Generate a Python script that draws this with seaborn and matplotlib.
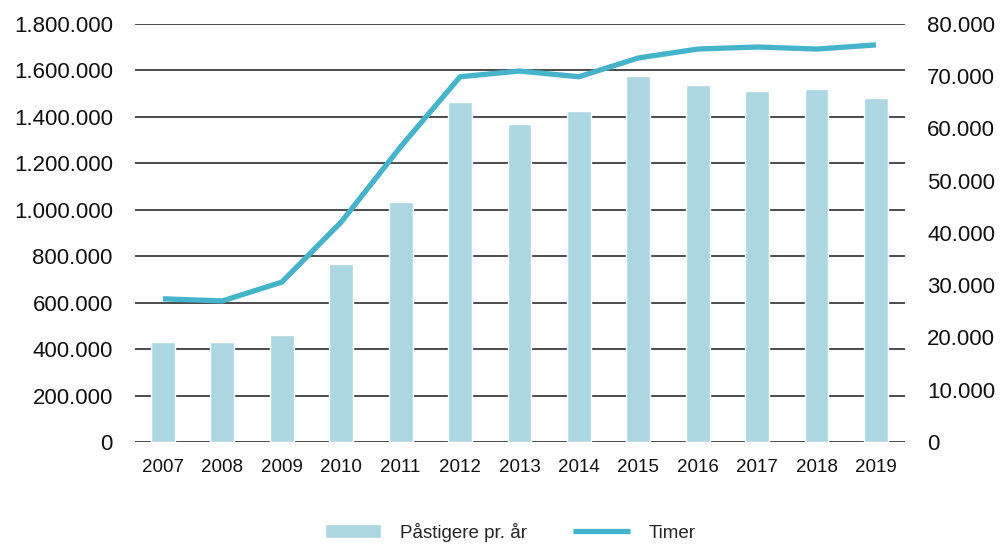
import pandas as pd
import matplotlib
matplotlib.use("Agg")
import matplotlib.pyplot as plt
import seaborn as sns
from matplotlib.ticker import FuncFormatter, MultipleLocator

# Data
years = ["2007", "2008", "2009", "2010", "2011", "2012", "2013",
         "2014", "2015", "2016", "2017", "2018", "2019"]
passengers = [430000, 430000, 460000, 766000, 1035000, 1465000, 1370000,
              1425000, 1576000, 1537000, 1511000, 1520000, 1481000]
hours = [27400, 27000, 30600, 42100, 56500, 69900, 71000,
         69900, 73500, 75200, 75600, 75200, 76000]

bar_color = "#acd6e2"
line_color = "#45b3c9"

df = pd.DataFrame({"Year": years, "Passengers": passengers, "Hours": hours})

sns.set_style("white")
plt.rcParams["font.family"] = ["Liberation Sans", "DejaVu Sans"]

fig = plt.figure(figsize=(10.04, 5.44), dpi=100)
ax = fig.add_axes([0.1345, 0.1875, 0.767, 0.7684])

sns.barplot(data=df, x="Year", y="Passengers", color=bar_color, width=0.4,
            saturation=1, ax=ax, zorder=2, label="Påstigere pr. år")

ax2 = ax.twinx()
sns.pointplot(data=df, x="Year", y="Hours", color=line_color, markers="",
              linewidth=3.8, errorbar=None, ax=ax2, label="Timer")
for ln in ax2.lines:
    ln.set_solid_capstyle("butt")
    ln.set_solid_joinstyle("round")

ax.set_ylim(0, 1800000)
ax2.set_ylim(0, 80000)
ax.set_xlim(-0.47, 12.49)
ax.yaxis.set_major_locator(MultipleLocator(200000))
ax2.yaxis.set_major_locator(MultipleLocator(10000))

fmt = FuncFormatter(lambda v, p: f"{int(v):,}".replace(",", "."))
ax.yaxis.set_major_formatter(fmt)
ax2.yaxis.set_major_formatter(fmt)

ax.set_axisbelow(True)
ax.grid(axis="y", color="#1a1a1a", linewidth=1.1)
ax.grid(axis="x", visible=False)
ax2.grid(False)

for a in (ax, ax2):
    for s in a.spines.values():
        s.set_visible(False)
    a.set_xlabel("")
    a.set_ylabel("")

ax.tick_params(axis="y", length=0, pad=16, labelsize=16, labelcolor="#111111")
ax2.tick_params(axis="y", length=0, pad=16, labelsize=16, labelcolor="#111111")
ax.tick_params(axis="x", length=0, pad=12, labelsize=13.5, labelcolor="#111111")

h1, l1 = ax.get_legend_handles_labels()
h2, l2 = ax2.get_legend_handles_labels()
if ax.get_legend():
    ax.get_legend().remove()
if ax2.get_legend():
    ax2.get_legend().remove()
fig.legend(h1 + h2, l1 + l2, loc="center", bbox_to_anchor=(0.508, 0.022),
           ncol=2, frameon=False, fontsize=13.5, handlelength=3,
           handletextpad=1.0, columnspacing=2.5)

fig.savefig("out.png", dpi=100)
